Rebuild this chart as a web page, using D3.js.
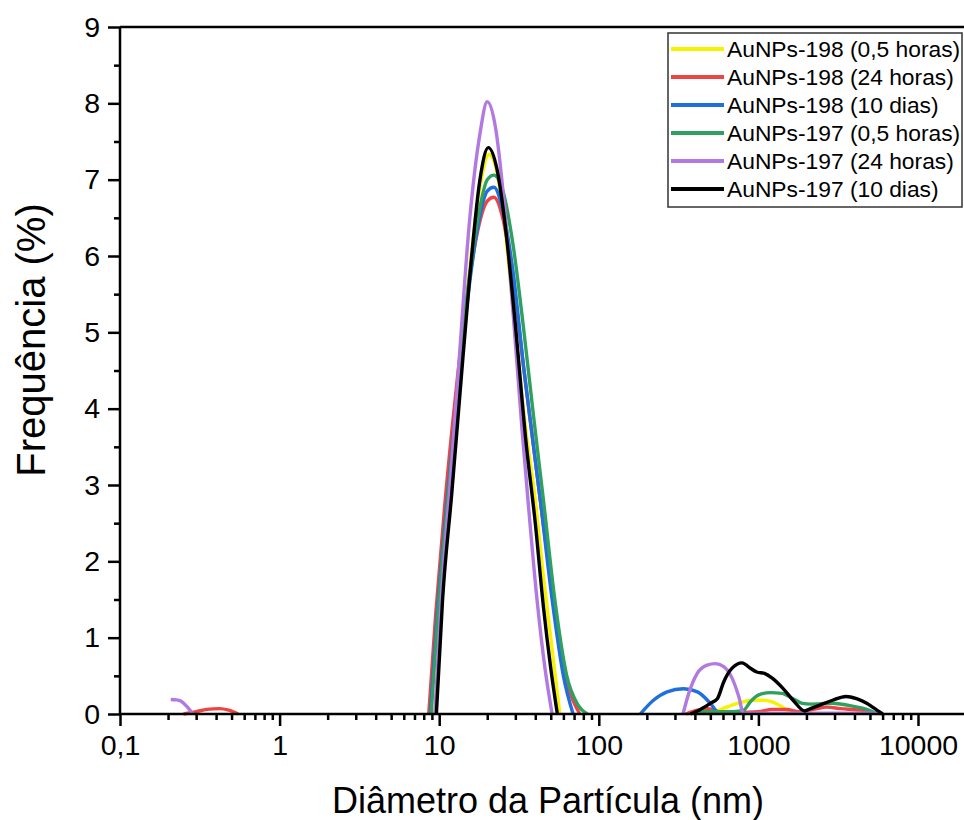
<!DOCTYPE html>
<html>
<head>
<meta charset="utf-8">
<script src="https://cdn.jsdelivr.net/npm/d3@7"></script>
<style>
    body { margin: 0; background: #fff; }
    text { font-family: Arial, "Liberation Sans", sans-serif; fill: #000; }
</style>
</head>
<body>
<svg id="chart" width="964" height="820"></svg>
<script>
"use strict"

// axis ticks
const xMajor = [0.1, 1, 10, 100, 1000, 10000]
const xLabels = ["0,1", "1", "10", "100", "1000", "10000"]
const yMajor = [0, 1, 2, 3, 4, 5, 6, 7, 8, 9]

// [diameter (nm), frequency (%)]
const au198_05h = [[9.4,0],[10.3,1.4],[11.8,2.9],[13.4,4.3],[15.5,5.8],[18,6.9],[20.5,7.33],[23,7.1],[26,6.3],[30,5.0],[35,3.7],[40,2.8],[45,1.8],[50,1.0],[57,0],
    [480,0],[537,0.03],[630,0.09],[771,0.15],[920,0.18],[1070,0.18],[1220,0.16],[1420,0.09],[1620,0]]
const au198_24h = [[0.25,0],[0.3,0.03],[0.35,0.06],[0.42,0.07],[0.48,0.05],[0.55,0],
    [8.6,0],[9.5,1.3],[10.9,2.8],[12.7,4.2],[14.8,5.4],[17.3,6.3],[20,6.72],[22,6.77],[25,6.5],[29,5.7],[34,4.5],[38.5,3.6],[43,2.8],[52,1.5],[62,0.5],[76,0],
    [350,0],[415,0.05],[479,0.07],[537,0.05],[578,0.02],[760,0.02],[1000,0.03],[1220,0.06],[1500,0.06],[1800,0.03],[2230,0.06],[2690,0.09],[3270,0.07],[4360,0.05],[5200,0]]
const au198_10d = [[8.8,0],[9.7,1.3],[11.2,2.8],[13,4.2],[15,5.4],[17.5,6.4],[20,6.85],[22,6.9],[25,6.6],[29,5.8],[34,4.5],[38.5,3.6],[43,2.8],[51,1.5],[60,0.5],[69,0],
    [182,0],[220,0.18],[268,0.29],[339,0.33],[415,0.29],[479,0.18],[537,0.05],[553,0]]
const au197_05h = [[8.9,0],[9.8,1.3],[11.3,2.8],[13,4.2],[15,5.5],[17.5,6.5],[20,7.0],[22,7.06],[25,6.86],[29,6.15],[34,5.0],[39,3.9],[45,2.8],[53,1.5],[63,0.5],[74,0.12],[85,0],
    [392,0],[450,0.03],[700,0.03],[809,0.05],[891,0.16],[1005,0.25],[1190,0.28],[1400,0.27],[1650,0.2],[1880,0.14],[2120,0.13],[2900,0.14],[3950,0.1],[4770,0.06],[5520,0]]
const au197_24h = [[0.208,0.19],[0.225,0.185],[0.24,0.17],[0.262,0.1],[0.286,0],
    [9.4,0],[10.3,1.5],[11.8,3.1],[13.4,4.7],[15.4,6.4],[18,7.6],[20,8.02],[22.5,7.69],[25.5,6.7],[29,5.27],[33,3.74],[36,2.8],[41,1.5],[46,0.6],[51,0],
    [337,0],[366,0.27],[413,0.53],[477,0.64],[537,0.66],[606,0.62],[684,0.47],[753,0.23],[809,0],[850,0.012],[5600,0.012],[5900,0]]
const au197_10d = [[9.6,0],[10.5,1.5],[12,2.9],[13.5,4.2],[15.5,5.7],[18,7.0],[20.3,7.42],[23,7.14],[26,6.38],[30,5.1],[35,3.56],[40,2.5],[45,1.4],[50,0.6],[55,0],
    [375,0],[433,0.06],[500,0.14],[553,0.2],[606,0.42],[684,0.6],[790,0.67],[891,0.6],[977,0.55],[1100,0.53],[1220,0.47],[1420,0.34],[1650,0.18],[1950,0.04],[2120,0.07],[2450,0.12],[2920,0.18],[3540,0.23],[4120,0.2],[4770,0.14],[5520,0.05],[6010,0]]

const seriesNames = ["AuNPs-198 (0,5 horas)", "AuNPs-198 (24 horas)", "AuNPs-198 (10 dias)",
                     "AuNPs-197 (0,5 horas)", "AuNPs-197 (24 horas)", "AuNPs-197 (10 dias)"]
const seriesColors = ["#f7f200", "#ee4444", "#1f6fdc", "#30a060", "#b27ae0", "#000000"]
const seriesData = [au198_05h, au198_24h, au198_10d, au197_05h, au197_24h, au197_10d]

const width = 964, height = 820
const margin = { top: 27, left: 120, bottom: 106 }

const svg = d3.select("#chart")

const x = d3.scaleLog()
    .domain([0.1, 10000])
    .range([margin.left, 918])

const y = d3.scaleLinear()
    .domain([0, 9])
    .range([height - margin.bottom, margin.top])

// minor ticks: 2..9 in each decade, and halves on y
let xMinor = []
xMajor.forEach(m => { for (let k = 2; k < 10; k++) xMinor.push(m * k) })
const yMinor = yMajor.slice(0, -1).map(v => v + 0.5)

// the original doesn't draw the flat stretches between peaks, so cut there
function splitAtZeroRuns(points) {
    let segs = []
    let cur = [points[0]]
    for (let i = 1; i < points.length; i++) {
        if (points[i - 1][1] === 0 && points[i][1] === 0) {
            segs.push(cur)
            cur = [points[i]]
        } else {
            cur.push(points[i])
        }
    }
    segs.push(cur)
    return segs.filter(s => s.length > 1)
}

const line = d3.line()
    .x(d => x(d[0]))
    .y(d => y(d[1]))
    .curve(d3.curveMonotoneX)

const series = svg.append("g")
    .selectAll("g")
    .data(seriesData)
    .enter().append("g")
        .attr("stroke", (d, i) => seriesColors[i])

series.selectAll("path")
    .data(d => splitAtZeroRuns(d))
    .enter().append("path")
        .attr("d", line)
        .attr("fill", "none")
        .attr("stroke-width", 3.4)
        .attr("stroke-linejoin", "round")

// axes on top, as in the original
const xAxis = svg.append("g")
    .attr("transform", "translate(0," + y(0) + ")")
    .call(d3.axisBottom(x).tickValues(xMajor).tickFormat((d, i) => xLabels[i]).tickSize(12).tickPadding(9))
xAxis.append("g")
    .call(d3.axisBottom(x).tickValues(xMinor.filter(v => x(v) < width)).tickFormat("").tickSize(6))

const yAxis = svg.append("g")
    .attr("transform", "translate(" + margin.left + ",0)")
    .call(d3.axisLeft(y).tickValues(yMajor).tickSize(12).tickPadding(8))
yAxis.append("g")
    .call(d3.axisLeft(y).tickValues(yMinor).tickFormat("").tickSize(6))

svg.selectAll(".domain").remove()
svg.selectAll(".tick line").attr("stroke", "#000").attr("stroke-width", 2.5)
svg.selectAll(".tick text").style("font-size", "28.5px").attr("fill", "#000")

// frame: bottom and left axis lines, top border running off the right edge
svg.append("line")
    .attr("x1", margin.left).attr("x2", width)
    .attr("y1", y(0)).attr("y2", y(0))
    .attr("stroke", "#000").attr("stroke-width", 2.5)
svg.append("line")
    .attr("x1", margin.left).attr("x2", width)
    .attr("y1", y(9)).attr("y2", y(9))
    .attr("stroke", "#000").attr("stroke-width", 2.5)
svg.append("line")
    .attr("x1", margin.left).attr("x2", margin.left)
    .attr("y1", y(9)).attr("y2", y(0))
    .attr("stroke", "#000").attr("stroke-width", 2.5)

// axis titles
svg.append("text")
    .attr("x", 548).attr("y", 813)
    .attr("text-anchor", "middle")
    .style("font-size", "36px")
    .text("Diâmetro da Partícula (nm)")

svg.append("text")
    .attr("transform", "translate(45,340) rotate(-90)")
    .attr("text-anchor", "middle")
    .style("font-size", "40px")
    .text("Frequência (%)")

// legend
const legend = svg.append("g").attr("transform", "translate(668,33)")
legend.append("rect")
    .attr("width", 294).attr("height", 174)
    .attr("fill", "#fff")
    .attr("stroke", "#333").attr("stroke-width", 1.5)

const rows = legend.selectAll(".row")
    .data(seriesNames)
    .enter().append("g")
        .attr("class", "row")
        .attr("transform", (d, i) => "translate(0," + (16 + i * 28) + ")")

rows.append("line")
    .attr("x1", 3).attr("x2", 56)
    .attr("stroke", (d, i) => seriesColors[i])
    .attr("stroke-width", 4)

rows.append("text")
    .attr("x", 59).attr("y", 8)
    .style("font-size", "22.8px")
    .text(d => d)
</script>
</body>
</html>
